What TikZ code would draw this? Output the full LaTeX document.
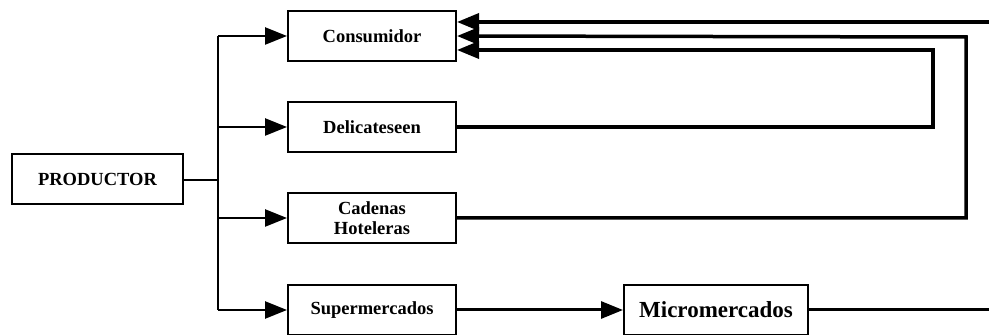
\documentclass[tikz,border=0pt]{standalone}
\usepackage{fontspec}
\setmainfont{Liberation Serif}
\usetikzlibrary{arrows.meta}
\begin{document}
\begin{tikzpicture}[x=1pt,y=1pt]
\tikzset{
box node/.style={draw,line width=2pt,minimum width=168pt,minimum height=50pt,inner sep=1pt,align=center,font=\fontsize{18.5}{20}\selectfont\bfseries},
big node/.style={box node,minimum width=184pt,font=\fontsize{23}{25}\selectfont\bfseries},
link/.style={line width=2.5pt,-{Triangle[length=22pt,width=17pt]}},
back/.style={line width=3.5pt,-{Triangle[length=22pt,width=17pt]}}
}
\useasboundingbox (0,0) rectangle (989,335);

\node(prod)[box node,minimum width=171pt] at (97.5,156){PRODUCTOR};
\node(cons)[box node] at (372,299){Consumidor};
\node(deli)[box node] at (372,208){Delicateseen};
\node(cad)[box node] at (372,117){Cadenas\\Hoteleras};
\node(super)[box node] at (372,25){Supermercados};
\node(micro)[big node] at (716,25){Micromercados};

\coordinate(trunk) at (218,155);
\coordinate(edge top) at (989,313);
\coordinate(edge low) at (989,25);

% producer to the four channels
\draw[line width=2.5pt] (prod.east |- trunk) -- (trunk);
\draw[line width=2.5pt] (trunk |- cons) -- (trunk |- super);
\foreach \n in {cons,deli,cad,super}
    \draw[link] (trunk |- \n) -- (\n.west);

% return lines to the consumer
\draw[back] (edge top) -- ([yshift=14pt]cons.east);
\draw[back] (cad.east) -- (966,117) -- (966,298) -- (cons.east);
\draw[back] (deli.east) -- (933,208) -- (933,285) -- ([yshift=-14pt]cons.east);

\draw[link,line width=3pt] (super.east) -- (micro.west);
\draw[line width=3pt] (micro.east) -- (edge low);
\end{tikzpicture}
\end{document}
